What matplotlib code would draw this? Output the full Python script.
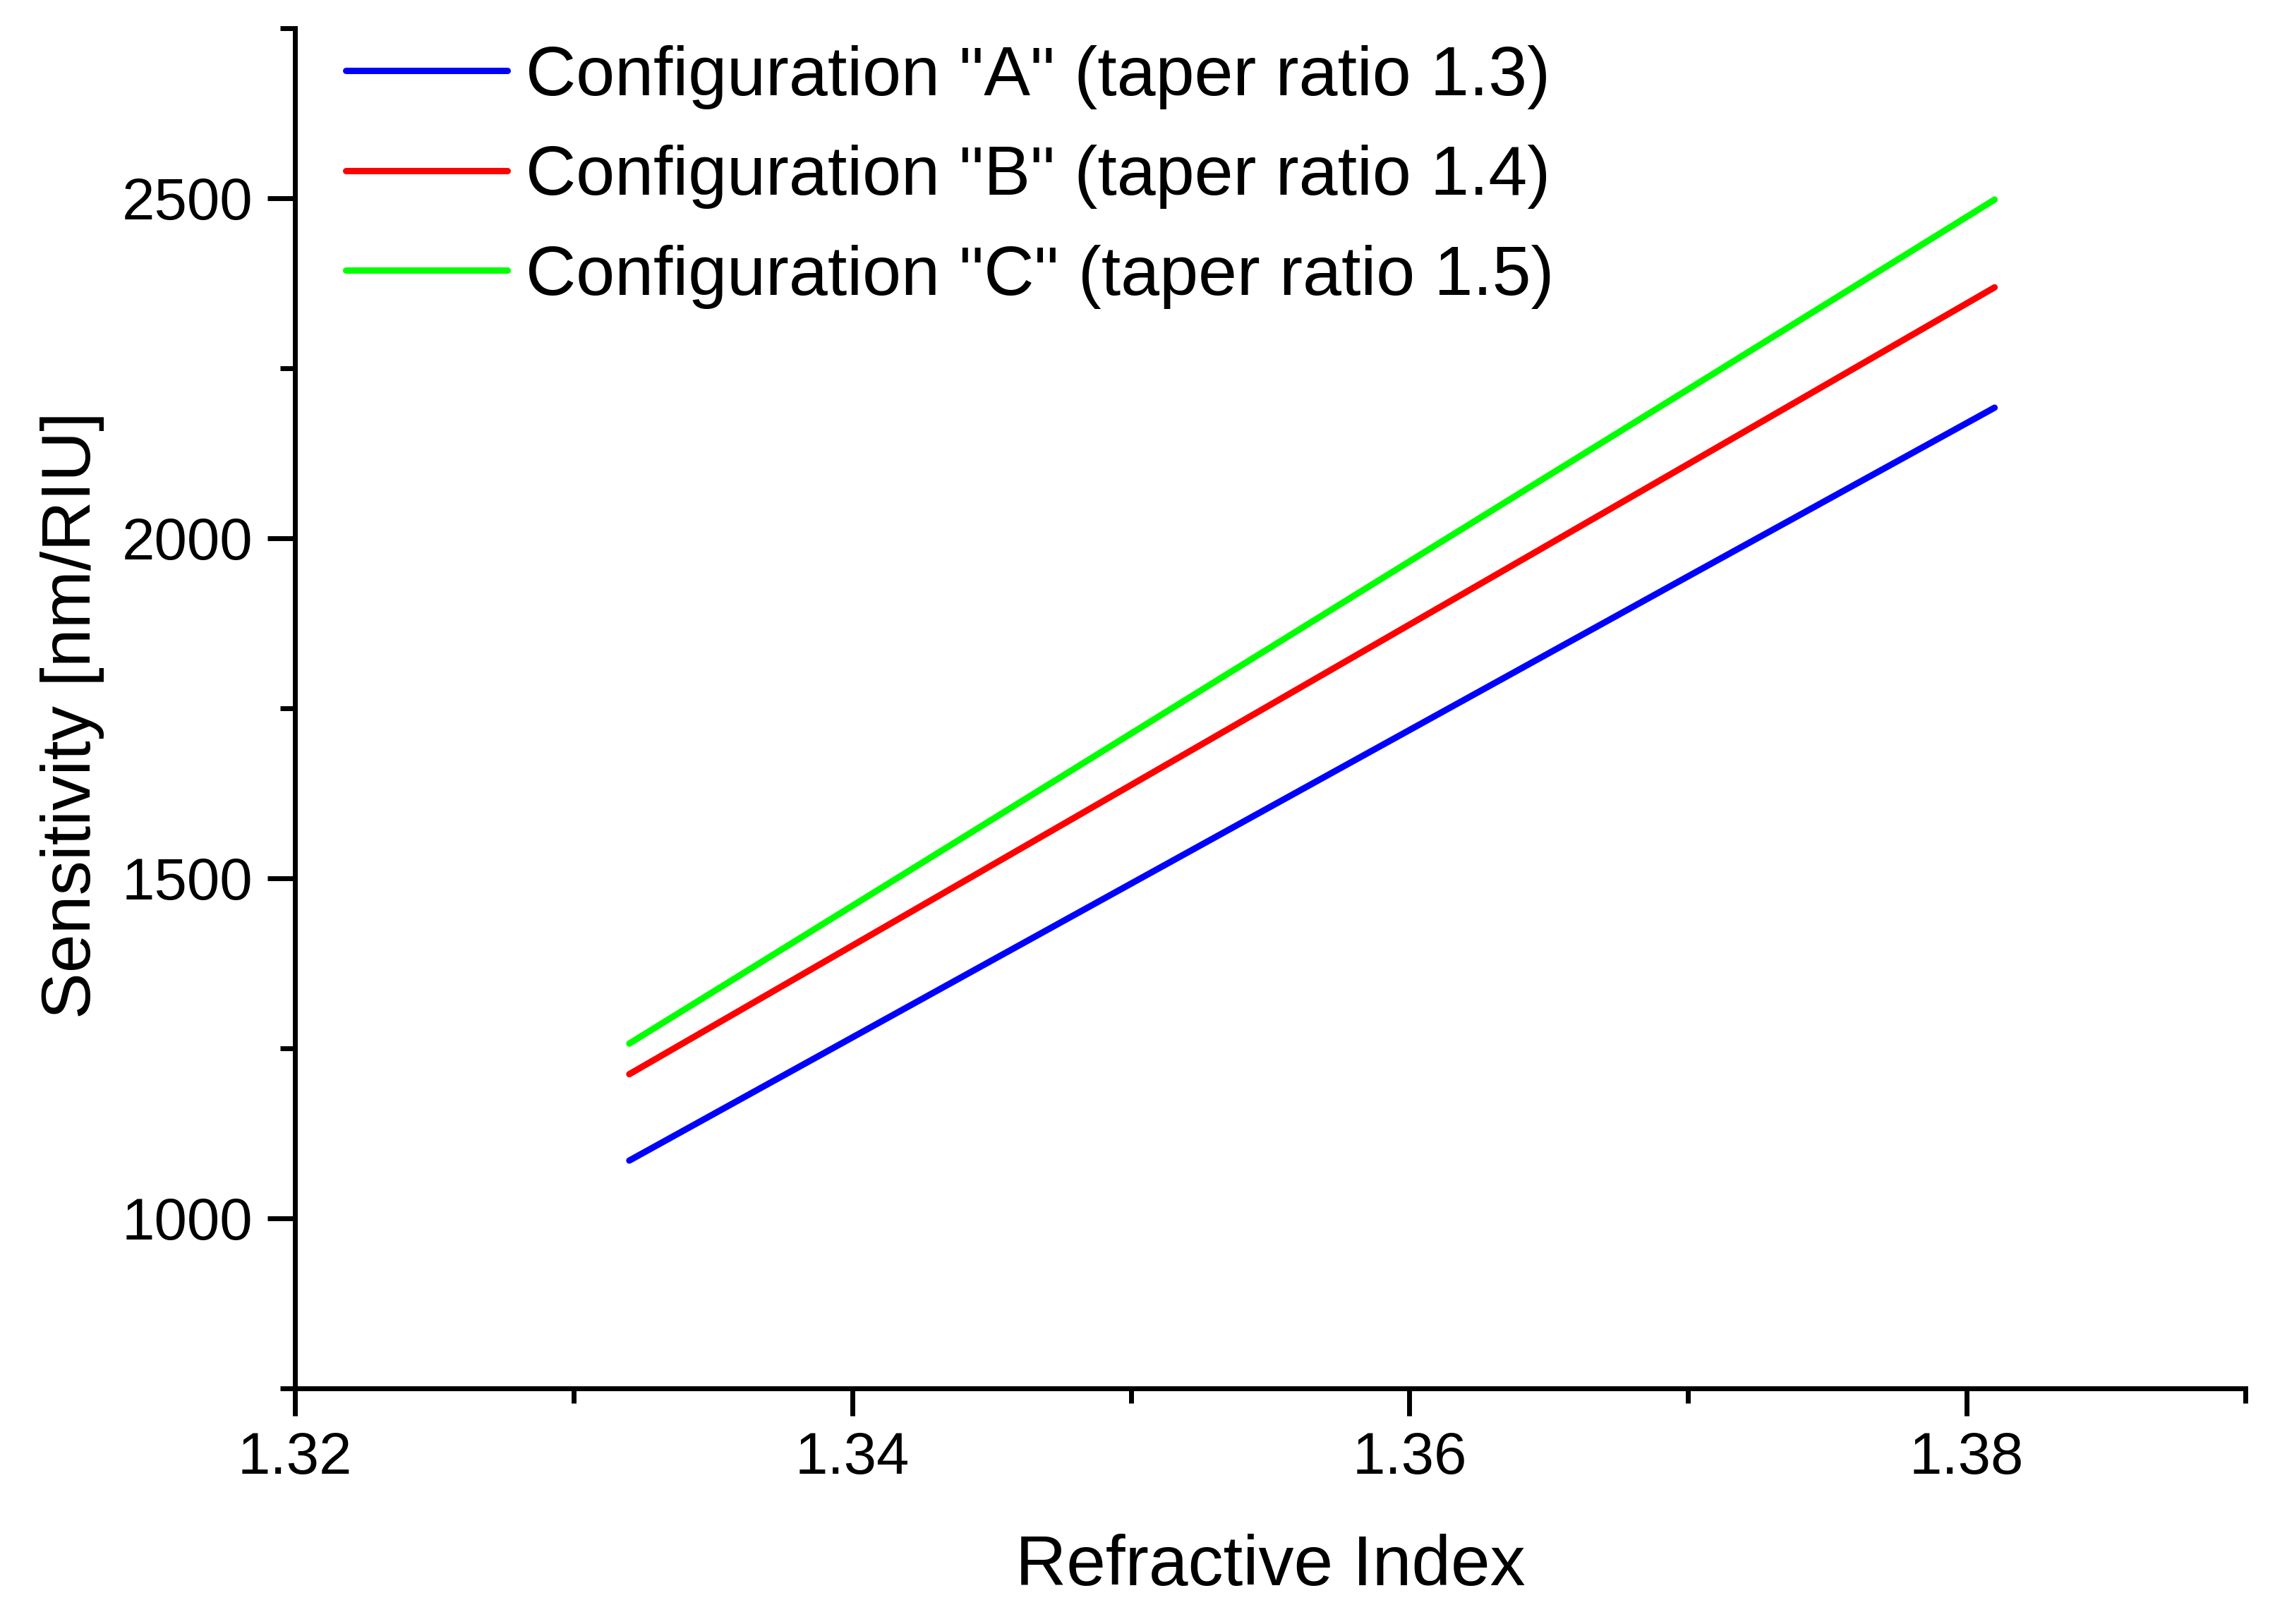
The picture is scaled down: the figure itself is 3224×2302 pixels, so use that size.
import matplotlib
matplotlib.use("Agg")
import matplotlib.pyplot as plt
from matplotlib.ticker import MultipleLocator

plt.rcParams['font.family'] = ['Liberation Sans', 'DejaVu Sans']

# Data
ri = [1.332, 1.345, 1.360, 1.370, 1.381]
sens_A = [1085, 1379, 1718, 1944, 2192]
sens_B = [1212, 1519, 1873, 2109, 2369]
sens_C = [1257, 1586, 1966, 2219, 2498]
labels = ['Configuration "A" (taper ratio 1.3)',
          'Configuration "B" (taper ratio 1.4)',
          'Configuration "C" (taper ratio 1.5)']
colors = ['#0000ff', '#ff0000', '#00ff00']
xticks = [1.32, 1.34, 1.36, 1.38]
xticklabels = ['1.32', '1.34', '1.36', '1.38']
yticks = [1000, 1500, 2000, 2500]

W, H = 3224, 2302
L, R, T, B = 418, 3182, 40, 1968
fig = plt.figure(figsize=(W / 100, H / 100), dpi=100)
ax = fig.add_axes([L / W, 1 - B / H, (R - L) / W, (B - T) / H])

for y, lab, c in zip([sens_A, sens_B, sens_C], labels, colors):
    ax.plot(ri, y, color=c, lw=6.5, label=lab, solid_capstyle='round')

ax.set_xlim(1.32, 1.39)
ax.set_ylim(750, 2750)
ax.xaxis.set_minor_locator(MultipleLocator(0.01))
ax.yaxis.set_minor_locator(MultipleLocator(250))
ax.set_yticks(yticks)
ax.set_xticks(xticks)
ax.set_xticklabels(xticklabels)

for s in ['top', 'right']:
    ax.spines[s].set_visible(False)
for s in ['left', 'bottom']:
    ax.spines[s].set_linewidth(5)
    ax.spines[s].set_capstyle('projecting')

ax.tick_params(which='major', direction='out', length=28, width=5, labelsize=60, pad=15)
ax.tick_params(which='minor', direction='out', length=15, width=5)

ax.set_xlabel('Refractive Index', fontsize=72)
ax.set_ylabel('Sensitivity [nm/RIU]', fontsize=71)
ax.xaxis.set_label_coords(0.5, -0.131)
ax.xaxis.label.set_va('center')
ax.yaxis.set_label_coords(-0.114, 0.495)
ax.yaxis.label.set_va('center')

leg = ax.legend(loc='upper left', bbox_to_anchor=(490 / W, 1 - 64 / H),
                bbox_transform=fig.transFigure, frameon=False, fontsize=71,
                handlelength=2.32, handletextpad=0.27, labelspacing=0.51,
                borderpad=0, borderaxespad=0)

fig.savefig('out.png', dpi=100, facecolor='white')
